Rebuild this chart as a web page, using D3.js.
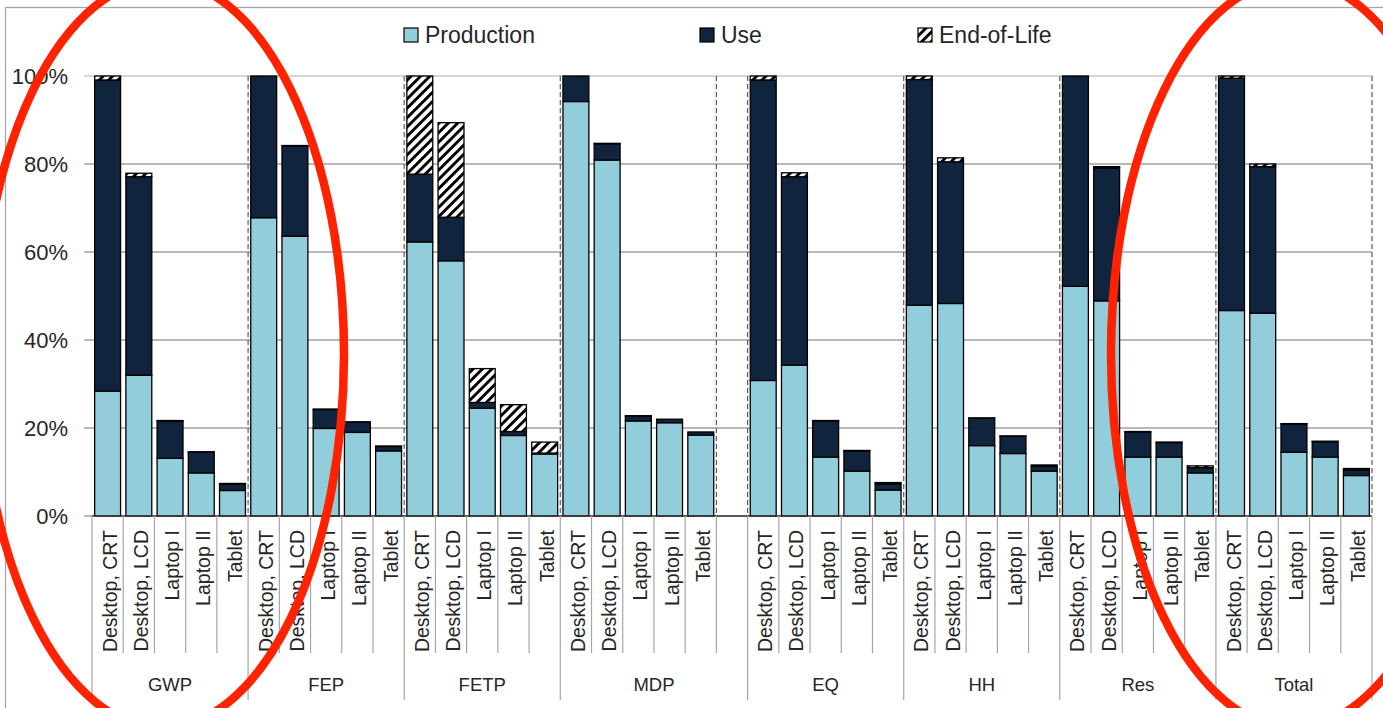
<!DOCTYPE html>
<html>
<head>
<meta charset="utf-8">
<script src="https://cdn.jsdelivr.net/npm/d3@7"></script>
<style>
  html, body { margin: 0; padding: 0; background: #fff; }
  svg { display: block; font-family: "Liberation Sans", Arial, sans-serif; }
</style>
</head>
<body>
<svg id="chart" width="1383" height="708"></svg>
<script>
// Impact categories and devices
const groups = ["GWP", "FEP", "FETP", "MDP", "EQ", "HH", "Res", "Total"];
const devices = ["Desktop, CRT", "Desktop, LCD", "Laptop I", "Laptop II", "Tablet"];
const seriesNames = ["Production", "Use", "End-of-Life"];

// Life-cycle shares (%), one row per impact category, one value per device
const production = [
  [28.4, 32.0, 13.1, 9.8, 5.8],
  [67.8, 63.6, 19.9, 19.0, 14.8],
  [62.3, 58.0, 24.5, 18.3, 14.1],
  [94.2, 80.9, 21.6, 21.2, 18.4],
  [30.8, 34.3, 13.4, 10.2, 5.9],
  [47.9, 48.3, 16.0, 14.2, 10.2],
  [52.2, 48.9, 13.4, 13.4, 9.8],
  [46.7, 46.1, 14.5, 13.4, 9.2]
];
const use = [
  [70.7, 45.1, 8.4, 4.7, 1.5],
  [32.2, 20.5, 4.3, 2.3, 1.0],
  [15.4, 9.9, 1.3, 0.9, 0.2],
  [5.8, 3.7, 1.1, 0.8, 0.7],
  [68.3, 42.8, 8.2, 4.6, 1.4],
  [51.3, 32.2, 6.2, 3.9, 1.1],
  [47.8, 30.2, 5.7, 3.3, 1.2],
  [52.8, 33.3, 6.4, 3.5, 1.3]
];
const endOfLife = [
  [0.9, 0.8, 0.2, 0.1, 0.1],
  [0.0, 0.1, 0.1, 0.1, 0.1],
  [22.3, 21.5, 7.7, 6.1, 2.5],
  [0.0, 0.1, 0.1, 0.0, 0.0],
  [0.9, 0.9, 0.1, 0.1, 0.3],
  [0.8, 0.9, 0.1, 0.1, 0.3],
  [0.0, 0.3, 0.1, 0.1, 0.4],
  [0.5, 0.6, 0.1, 0.1, 0.3]
];
const yTicks = [0, 20, 40, 60, 80, 100];
// this group carries one extra empty slot at its end
const paddedGroup = "MDP";

const svg = d3.select("#chart");
const plot = { left: 92, right: 1372, top: 76, bottom: 516 };
const colors = { "Production": "#92cddc", "Use": "#10243e", "End-of-Life": "url(#hatch)" };

// hatch pattern for End-of-Life
const defs = svg.append("defs");
const pat = defs.append("pattern")
  .attr("id", "hatch")
  .attr("patternUnits", "userSpaceOnUse")
  .attr("width", 6.6).attr("height", 6.6)
  .attr("patternTransform", "rotate(45)");
pat.append("rect").attr("width", 6.6).attr("height", 6.6).attr("fill", "#fff");
pat.append("rect").attr("width", 2.9).attr("height", 6.6).attr("fill", "#000");

// chart frame
svg.append("rect")
  .attr("x", 5.5).attr("y", 7.5).attr("width", 1500).attr("height", 900)
  .attr("fill", "none").attr("stroke", "#a6a6a6").attr("stroke-width", 1.3);

// category slots and stacked rows
const slots = [];
const rows = [];
groups.forEach((g, gi) => {
  devices.forEach((d, di) => {
    const key = g + "|" + d;
    slots.push({ key, group: g, device: d });
    rows.push({ key, "Production": production[gi][di], "Use": use[gi][di], "End-of-Life": endOfLife[gi][di] });
  });
  if (g === paddedGroup) slots.push({ key: g + "|", group: g, device: "" });
});

const pad = 0.17;
const x = d3.scaleBand()
  .domain(slots.map(s => s.key))
  .range([plot.left, plot.right])
  .paddingInner(pad)
  .paddingOuter(pad / 2);
const y = d3.scaleLinear().domain([0, 100]).range([plot.bottom, plot.top]);
const step = x.step();
const slotStart = key => x(key) - step * pad / 2;

// horizontal gridlines + y labels
const yAxis = svg.append("g");
yAxis.selectAll("line").data(yTicks).join("line")
  .attr("x1", plot.left - 8).attr("x2", plot.right)
  .attr("y1", d => y(d)).attr("y2", d => y(d))
  .attr("stroke", d => d === 100 ? "#c8c8c8" : "#a0a0a0")
  .attr("stroke-width", 1.3);
yAxis.selectAll("text").data(yTicks).join("text")
  .attr("x", 68).attr("y", d => y(d))
  .attr("dy", "0.36em")
  .attr("text-anchor", "end")
  .attr("font-size", 22)
  .attr("fill", "#262626")
  .text(d => d + "%");

// group extents
const groupSpans = groups.map(g => {
  const s = slots.filter(v => v.group === g);
  return { group: g, x0: slotStart(s[0].key), x1: slotStart(s[s.length - 1].key) + step };
});

// dashed separators inside the plot
const dashX = [];
groupSpans.forEach(gs => dashX.push(gs.x1));
slots.filter(s => s.device === "").forEach(s => dashX.push(slotStart(s.key)));
svg.append("g").selectAll("line").data(dashX).join("line")
  .attr("x1", d => d).attr("x2", d => d)
  .attr("y1", plot.top).attr("y2", plot.bottom)
  .attr("stroke", "#5a5a5a").attr("stroke-width", 1.2)
  .attr("stroke-dasharray", "5,3");

// stacked bars
const stacked = d3.stack().keys(seriesNames)(rows);
const bars = svg.append("g");
stacked.forEach(layer => {
  bars.append("g").selectAll("rect").data(layer.filter(d => d[1] - d[0] > 0)).join("rect")
    .attr("x", d => x(d.data.key))
    .attr("width", x.bandwidth())
    .attr("y", d => y(d[1]))
    .attr("height", d => y(d[0]) - y(d[1]))
    .attr("fill", colors[layer.key])
    .attr("stroke", "#000")
    .attr("stroke-width", 1.3);
});

// category axis
svg.append("line")
  .attr("x1", plot.left).attr("x2", plot.right)
  .attr("y1", plot.bottom).attr("y2", plot.bottom)
  .attr("stroke", "#3a3a3a").attr("stroke-width", 1.6);

const tickX = slots.map(s => slotStart(s.key)).concat([plot.right]);
svg.append("g").selectAll("line").data(tickX).join("line")
  .attr("x1", d => d).attr("x2", d => d)
  .attr("y1", plot.bottom).attr("y2", 653)
  .attr("stroke", "#a6a6a6").attr("stroke-width", 1.2);

const groupX = groupSpans.map(g => g.x0).concat([plot.right]);
svg.append("g").selectAll("line").data(groupX).join("line")
  .attr("x1", d => d).attr("x2", d => d)
  .attr("y1", 653).attr("y2", 700)
  .attr("stroke", "#a6a6a6").attr("stroke-width", 1.2);

svg.append("g").selectAll("text").data(slots.filter(s => s.device !== "")).join("text")
  .attr("transform", d => `translate(${x(d.key) + x.bandwidth() / 2 + 2},530) rotate(-90)`)
  .attr("dy", "0.36em")
  .attr("text-anchor", "end")
  .attr("font-size", 19.5)
  .attr("fill", "#262626")
  .text(d => d.device);

svg.append("g").selectAll("text").data(groupSpans).join("text")
  .attr("x", d => (d.x0 + d.x1) / 2)
  .attr("y", 691)
  .attr("text-anchor", "middle")
  .attr("font-size", 18.5)
  .attr("fill", "#262626")
  .text(d => d.group);

// legend
const legendX = [404, 700, 918];
const legend = svg.append("g");
seriesNames.forEach((name, i) => {
  legend.append("rect")
    .attr("x", legendX[i]).attr("y", 28).attr("width", 14).attr("height", 14)
    .attr("fill", colors[name]).attr("stroke", "#000").attr("stroke-width", 1.2);
  legend.append("text")
    .attr("x", legendX[i] + 21).attr("y", 43)
    .attr("font-size", 23)
    .attr("fill", "#262626")
    .text(name);
});

// highlight rings
const rings = [{ cx: 162, cy: 354 }, { cx: 1293, cy: 354 }];
svg.append("g").selectAll("ellipse").data(rings).join("ellipse")
  .attr("cx", d => d.cx).attr("cy", d => d.cy)
  .attr("rx", 182).attr("ry", 374)
  .attr("fill", "none")
  .attr("stroke", "#ff2200")
  .attr("stroke-width", 8.5);
</script>
</body>
</html>
